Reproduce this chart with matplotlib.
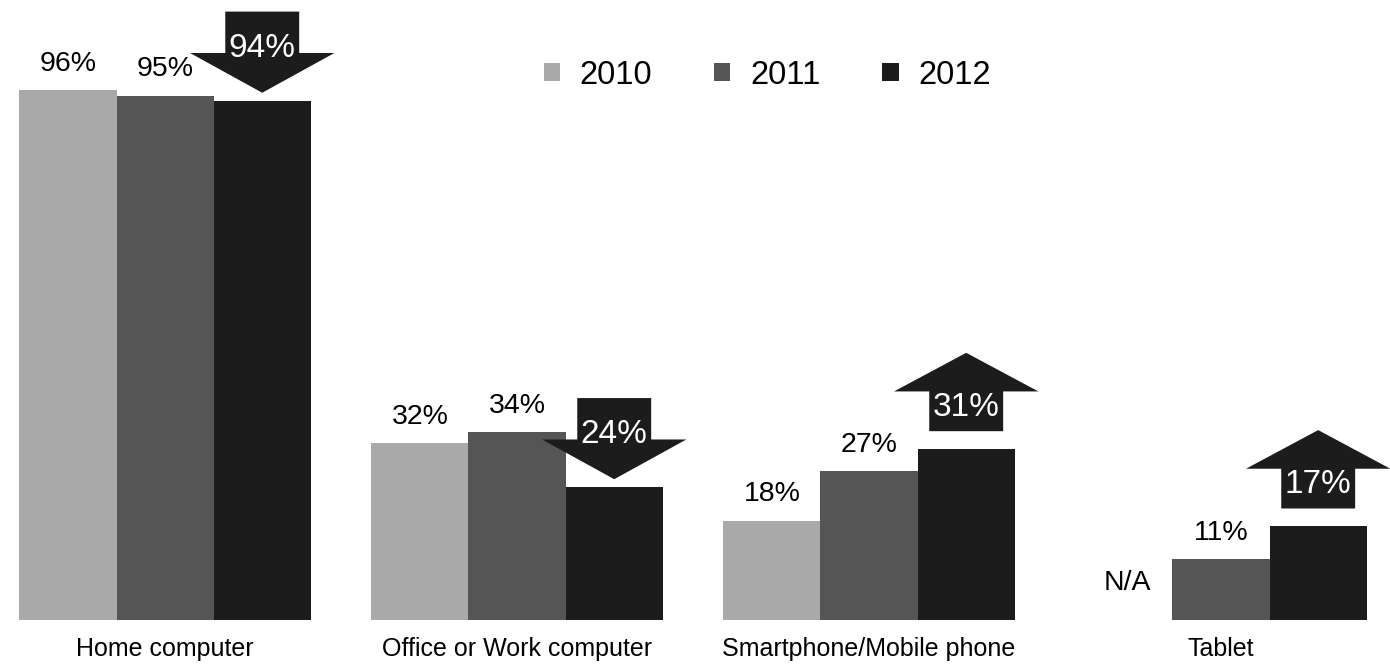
import matplotlib.pyplot as plt
from matplotlib.patches import Patch, Polygon
import numpy as np

plt.rcParams['font.family'] = ['Liberation Sans', 'DejaVu Sans']

# dados
categorias = ["Home computer", "Office or Work computer", "Smartphone/Mobile phone", "Tablet"]
anos = ["2010", "2011", "2012"]
v2010 = [96, 32, 18, None]   # Tablet: N/A
v2011 = [95, 34, 27, 11]
v2012 = [94, 24, 31, 17]
tendencia = ["down", "down", "up", "up"]  # seta sobre a barra de 2012

cores = ["#a9a9a9", "#555555", "#1c1c1c"]
largura = 0.276

fig = plt.figure(figsize=(13.9, 6.7), dpi=100)
ax = fig.add_axes([0, 50 / 670, 1, 620 / 670])

x = np.arange(len(categorias))
series = [v2010, v2011, v2012]

for i, (vals, cor) in enumerate(zip(series, cores)):
    desloc = (i - 1) * largura
    for xi, v in zip(x, vals):
        if v is None:
            ax.text(xi + desloc + 0.01, 5.4, "N/A", ha="center", va="baseline", fontsize=20.5)
            continue
        ax.bar(xi + desloc, v, width=largura, color=cor, edgecolor="none")
        if i < 2:
            ax.text(xi + desloc, v + 3.5, f"{v}%", ha="center", va="baseline", fontsize=20.5)


def seta(xc, v, sentido):
    cw, hw = 0.105, 0.205
    if sentido == "down":
        ponta, base, topo = v + 1.5, v + 8.7, v + 16.2
        pts = [(xc - cw, topo), (xc + cw, topo), (xc + cw, base), (xc + hw, base),
               (xc, ponta), (xc - hw, base), (xc - cw, base)]
        ytxt = v + 8.0
    else:
        fundo, base, ponta = v + 3.2, v + 10.4, v + 17.4
        pts = [(xc - cw, fundo), (xc + cw, fundo), (xc + cw, base), (xc + hw, base),
               (xc, ponta), (xc - hw, base), (xc - cw, base)]
        ytxt = v + 6.0
    ax.add_patch(Polygon(pts, closed=True, facecolor="#1c1c1c", edgecolor="none"))
    ax.text(xc, ytxt, f"{v}%", ha="center", va="baseline", fontsize=24, color="white")


for xi, v, s in zip(x, v2012, tendencia):
    seta(xi + largura, v, s)

ax.set_xlim(-0.469, 3.48)
ax.set_ylim(0, 112.3)
ax.set_xticks(x, categorias)
ax.tick_params(axis="x", length=0, pad=12, labelsize=18)
ax.set_yticks([])
for sp in ax.spines.values():
    sp.set_visible(False)

handles = [Patch(facecolor=c, edgecolor="none") for c in cores]
fig.legend(handles, anos, loc="center", bbox_to_anchor=(0.552, 0.888), ncol=3,
           frameon=False, fontsize=23.5, handlelength=0.5, handleheight=0.5,
           handletextpad=0.6, columnspacing=1.9)

fig.savefig("out.png", dpi=100)
